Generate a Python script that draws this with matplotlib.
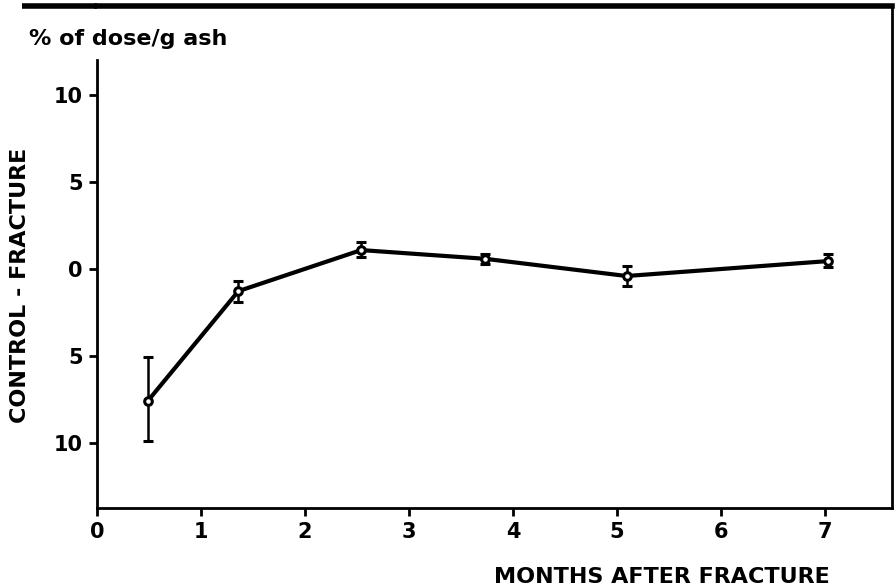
import matplotlib
matplotlib.use('Agg')
import matplotlib.pyplot as plt

# months after fracture and control-fracture difference (% of dose / g ash)
months = [0.49, 1.36, 2.54, 3.73, 5.09, 7.03]
diff = [-7.6, -1.29, 1.07, 0.57, -0.42, 0.44]
err_low = [2.3, 0.6, 0.4, 0.3, 0.55, 0.35]
err_high = [2.5, 0.6, 0.45, 0.3, 0.6, 0.38]

yticks = [10, 5, 0, -5, -10]
ytick_labels = ['10', '5', '0', '5', '10']
xticks = [0, 1, 2, 3, 4, 5, 6, 7]

plt.rcParams['font.family'] = 'DejaVu Sans'
plt.rcParams['font.weight'] = 'bold'

fig = plt.figure(figsize=(8.96, 5.88), dpi=100)
ax = fig.add_axes([0.108, 0.136, 0.8875, 0.854])

ax.errorbar(months, diff, yerr=[err_low, err_high], fmt='-o', color='black',
            lw=3, ms=5.5, mfc='white', mec='black', mew=2.2,
            ecolor='black', elinewidth=1.8, capsize=3.5, capthick=1.8)

ax.set_xlim(0, 7.64)
ax.set_ylim(-13.75, 15.1)
ax.set_xticks(xticks)
ax.set_yticks(yticks)
ax.set_yticklabels(ytick_labels)
ax.tick_params(axis='both', direction='out', length=6, width=2, labelsize=15, pad=4)
for lab in ax.get_xticklabels() + ax.get_yticklabels():
    lab.set_fontweight('bold')

for side in ['left', 'bottom', 'right']:
    ax.spines[side].set_linewidth(2)
ax.spines['top'].set_linewidth(4)
ax.spines['left'].set_bounds(-13.75, 12.0)
# top rule continues to the left of the frame
ax.plot([-0.094, 0], [1, 1], transform=ax.transAxes, color='black', lw=4,
        clip_on=False, solid_capstyle='butt')

ax.text(-0.085, 0.935, '% of dose/g ash', transform=ax.transAxes,
        fontsize=16, fontweight='bold', ha='left', va='center')
ax.text(-0.097, 0.444, 'CONTROL - FRACTURE', transform=ax.transAxes, rotation=90,
        fontsize=16, fontweight='bold', ha='center', va='center')
ax.text(0.922, -0.138, 'MONTHS AFTER FRACTURE', transform=ax.transAxes,
        fontsize=16, fontweight='bold', ha='right', va='center')

fig.savefig('out.png', dpi=100)
